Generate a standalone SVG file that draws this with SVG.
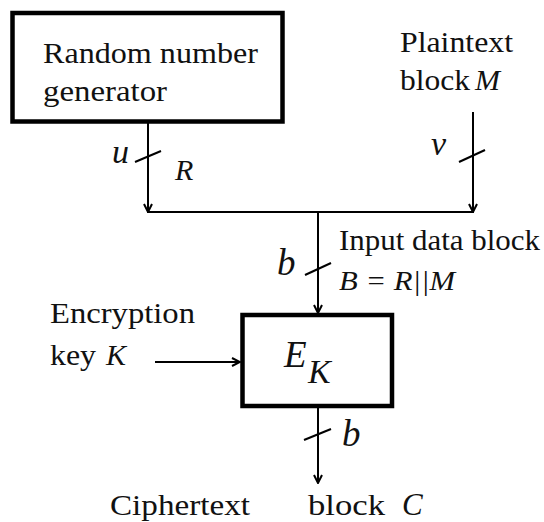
<svg xmlns="http://www.w3.org/2000/svg" width="544" height="522" viewBox="0 0 544 522" font-family="Liberation Serif, DejaVu Serif, Times New Roman, serif">
<defs>
<style>
.box{fill:#fff;stroke:#000;stroke-width:4.5}
.ln{fill:none;stroke:#000;stroke-width:2}
.arr{marker-end:url(#ah)}
text{fill:#111}
.t{font-size:30px}
.m{font-style:italic}
</style>
<marker id="ah" viewBox="0 0 10 10" refX="9" refY="5" markerWidth="10" markerHeight="10" markerUnits="userSpaceOnUse" orient="auto">
<path d="M1,1 L9,5 L1,9" fill="none" stroke="#000" stroke-width="2"/>
</marker>
</defs>
<rect width="544" height="522" fill="#fff"/>
<g id="connectors">
<line class="ln arr" x1="148" y1="123" x2="148" y2="212"/>
<line class="ln arr" x1="473" y1="112" x2="473" y2="212"/>
<line class="ln" x1="147" y1="212" x2="474" y2="212"/>
<line class="ln arr" x1="318" y1="212" x2="318" y2="313"/>
<line class="ln arr" x1="155" y1="362" x2="240" y2="362"/>
<line class="ln arr" x1="318" y1="408" x2="318" y2="483"/>
<line class="ln" x1="135" y1="162" x2="161" y2="151"/>
<line class="ln" x1="459" y1="162" x2="485" y2="150"/>
<line class="ln" x1="305" y1="275" x2="331" y2="263"/>
<line class="ln" x1="304" y1="440" x2="331" y2="429"/>
<text class="m" x="112" y="163" font-size="34" font-family="Liberation Serif, serif">u</text>
<text class="m" x="175" y="180" font-size="30" font-family="Liberation Serif, serif">R</text>
<text class="m" x="431" y="155" font-size="34" font-family="Liberation Serif, serif">v</text>
<text class="m" x="277" y="275" font-size="37" font-family="Liberation Serif, serif">b</text>
<text class="m" x="342" y="446" font-size="37" font-family="Liberation Serif, serif">b</text>
</g>
<g id="rng" font-family="Liberation Serif, serif">
<rect class="box" x="12.5" y="13" width="270" height="108.5"/>
<text class="t" x="43" y="63" textLength="215" lengthAdjust="spacingAndGlyphs">Random number</text>
<text class="t" x="43" y="101" textLength="124" lengthAdjust="spacingAndGlyphs">generator</text>
</g>
<g id="plaintext" font-family="Liberation Serif, serif">
<text class="t" x="400" y="52" textLength="113" lengthAdjust="spacingAndGlyphs">Plaintext</text>
<text class="t" x="400" y="90" textLength="70" lengthAdjust="spacingAndGlyphs">block</text>
<text class="m" x="475" y="90" font-size="30">M</text>
</g>
<g id="input-block" font-family="Liberation Serif, serif">
<text class="t" x="339" y="250" textLength="201" lengthAdjust="spacingAndGlyphs">Input data block</text>
<text class="m" x="339" y="290" font-size="27" textLength="116" lengthAdjust="spacingAndGlyphs">B = R||M</text>
</g>
<g id="key" font-family="Liberation Serif, serif">
<text class="t" x="50" y="323" textLength="145" lengthAdjust="spacingAndGlyphs">Encryption</text>
<text class="t" x="50" y="365" textLength="46" lengthAdjust="spacingAndGlyphs">key</text>
<text class="m" x="106" y="365" font-size="30">K</text>
</g>
<g id="encrypt" font-family="Liberation Serif, serif">
<rect class="box" x="242.5" y="315" width="149.5" height="91"/>
<text class="m" x="284" y="367" font-size="37">E</text>
<text class="m" x="308" y="383" font-size="34">K</text>
</g>
<g id="ciphertext" font-family="Liberation Serif, serif">
<text class="t" x="110" y="515" font-size="31" textLength="140" lengthAdjust="spacingAndGlyphs">Ciphertext</text>
<text class="t" x="308" y="515" font-size="31" textLength="77" lengthAdjust="spacingAndGlyphs">block</text>
<text class="m" x="402" y="515" font-size="31">C</text>
</g>
</svg>
